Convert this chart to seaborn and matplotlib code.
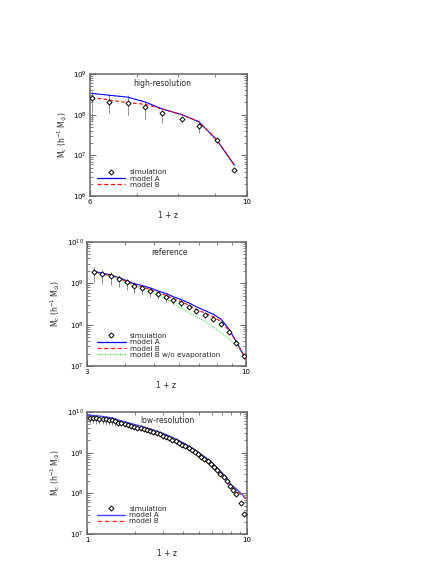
import numpy as np
import pandas as pd
import matplotlib
matplotlib.use('Agg')
import matplotlib.pyplot as plt
import seaborn as sns
from matplotlib.lines import Line2D
from matplotlib.ticker import FixedLocator, FixedFormatter, NullFormatter, LogLocator

# ---------------- data ----------------
# Panel 1: high-resolution
x1 = [6.03, 6.39, 6.78, 7.18, 7.59, 8.09, 8.55, 9.06, 9.60]
sim1 = [2.6e8, 2.1e8, 1.9e8, 1.55e8, 1.08e8, 7.8e7, 5.4e7, 2.4e7, 4.3e6]
sim1_lo = [6.6e7, 1.1e8, 1.0e8, 8.0e7, 6.4e7, 6.2e7, 3.5e7, 2.1e7, 4.0e6]
sim1_hi = [3.6e8, 3.2e8, 3.0e8, 2.1e8, 1.3e8, 9.0e7, 6.7e7, 2.7e7, 4.6e6]
modelA1 = [3.35e8, 3.0e8, 2.7e8, 2.05e8, 1.38e8, 1.0e8, 6.7e7, 2.4e7, 5.7e6]
modelB1 = [2.65e8, 2.3e8, 1.97e8, 1.8e8, 1.38e8, 1.0e8, 6.7e7, 2.4e7, 5.7e6]

# Panel 2: reference
x2 = [3.16, 3.37, 3.59, 3.82, 4.05, 4.29, 4.56, 4.85, 5.13, 5.46,
      5.77, 6.13, 6.50, 6.87, 7.32, 7.79, 8.28, 8.77, 9.30, 9.84]
sim2 = [1.88e9, 1.65e9, 1.50e9, 1.27e9, 1.05e9, 8.75e8, 7.7e8, 6.6e8, 5.5e8, 4.66e8,
        3.87e8, 3.27e8, 2.67e8, 2.13e8, 1.71e8, 1.39e8, 1.03e8, 6.6e7, 3.65e7, 1.77e7]
sim2_lo = [1.09e9, 9.9e8, 9.3e8, 8.1e8, 6.9e8, 5.95e8, 5.4e8, 4.75e8, 4.1e8, 3.6e8,
           3.1e8, 2.7e8, 2.3e8, 1.87e8, 1.54e8, 1.28e8, 9.7e7, 6.3e7, 3.5e7, 1.72e7]
sim2_hi = [2.5e9, 2.15e9, 1.92e9, 1.59e9, 1.28e9, 1.05e9, 9.1e8, 7.6e8, 6.2e8, 5.2e8,
           4.26e8, 3.53e8, 2.86e8, 2.26e8, 1.8e8, 1.45e8, 1.06e8, 6.8e7, 3.72e7, 1.8e7]
modelA2 = [1.97e9, 1.75e9, 1.6e9, 1.37e9, 1.16e9, 9.8e8, 8.85e8, 7.7e8, 6.55e8, 5.65e8,
           4.72e8, 4.02e8, 3.34e8, 2.7e8, 2.2e8, 1.8e8, 1.35e8, 8.0e7, 3.85e7, 1.77e7]
modelB2 = [1.88e9, 1.68e9, 1.55e9, 1.32e9, 1.1e9, 9.3e8, 8.2e8, 7.1e8, 6.0e8, 5.1e8,
           4.25e8, 3.6e8, 2.94e8, 2.34e8, 1.92e8, 1.57e8, 1.18e8, 7.4e7, 3.83e7, 1.77e7]
modelBnoevap2 = [1.85e9, 1.62e9, 1.47e9, 1.25e9, 1.03e9, 8.6e8, 7.5e8, 6.4e8, 5.4e8, 4.3e8,
                 3.28e8, 2.5e8, 1.93e8, 1.58e8, 1.21e8, 8.9e7, 6.45e7, 4.6e7, 3.14e7, 1.77e7]

# Panel 3: low-resolution (log10 of M_c)
x3 = [1.04, 1.09, 1.14, 1.19, 1.25, 1.31, 1.37, 1.43, 1.50, 1.57,
      1.64, 1.72, 1.80, 1.88, 1.97, 2.06, 2.16, 2.26, 2.37, 2.48,
      2.60, 2.72, 2.85, 2.98, 3.12, 3.27, 3.42, 3.58, 3.75, 3.93,
      4.11, 4.31, 4.51, 4.72, 4.94, 5.18, 5.42, 5.68, 5.94, 6.22,
      6.52, 6.82, 7.15, 7.48, 7.83, 8.20, 8.59, 9.13, 9.60]
logsim3 = [9.86, 9.85, 9.845, 9.84, 9.83, 9.82, 9.81, 9.80, 9.77, 9.74,
           9.72, 9.70, 9.68, 9.66, 9.635, 9.615, 9.595, 9.575, 9.55, 9.53,
           9.50, 9.475, 9.45, 9.42, 9.39, 9.36, 9.315, 9.28, 9.24, 9.20,
           9.16, 9.12, 9.066, 9.011, 8.957, 8.90, 8.845, 8.79, 8.72, 8.64,
           8.57, 8.48, 8.40, 8.30, 8.19, 8.09, 7.99, 7.76, 7.49]
logsim3_lo = [9.73, 9.72, 9.715, 9.71, 9.70, 9.69, 9.68, 9.67, 9.66, 9.65,
              9.66, 9.645, 9.63, 9.615, 9.595, 9.58, 9.565, 9.545, 9.52, 9.50,
              9.47, 9.45, 9.425, 9.395, 9.365, 9.335, 9.29, 9.255, 9.215, 9.175,
              9.135, 9.095, 9.04, 8.985, 8.93, 8.875, 8.82, 8.765, 8.695, 8.615,
              8.545, 8.455, 8.375, 8.275, 8.165, 8.065, 7.965, 7.735, 7.465]
logsim3_hi = [9.88, 9.87, 9.865, 9.86, 9.85, 9.84, 9.83, 9.82, 9.79, 9.76,
              9.74, 9.72, 9.70, 9.68, 9.655, 9.635, 9.615, 9.595, 9.57, 9.55,
              9.52, 9.495, 9.47, 9.44, 9.41, 9.38, 9.335, 9.30, 9.26, 9.22,
              9.18, 9.14, 9.086, 9.031, 8.977, 8.92, 8.865, 8.81, 8.74, 8.66,
              8.59, 8.50, 8.42, 8.32, 8.21, 8.11, 8.01, 7.78, 7.51]
xm3 = [1.0, 1.2, 1.45, 1.6, 2.0, 2.5, 3.0, 3.5, 4.0, 4.5, 5.0,
       5.5, 6.0, 6.5, 7.0, 7.5, 8.0, 8.5, 9.0, 9.4, 9.75]
logmodelA3 = [9.925, 9.90, 9.85, 9.79, 9.69, 9.58, 9.47, 9.355, 9.24, 9.12, 9.0,
              8.885, 8.76, 8.63, 8.50, 8.36, 8.20, 8.12, 8.03, 7.96, 7.88]
logmodelB3 = [9.845, 9.82, 9.77, 9.70, 9.60, 9.49, 9.385, 9.27, 9.155, 9.04, 8.915,
              8.80, 8.675, 8.545, 8.415, 8.28, 8.15, 8.08, 8.0, 7.94, 7.87]

titles = ['high-resolution', 'reference', 'low-resolution']
labels = ['simulation', 'model A', 'model B', 'model B w/o evaporation']

# ---------------- style ----------------
sns.set_style('ticks')
plt.rcParams['font.family'] = ['DejaVu Sans']
plt.rcParams['mathtext.fontset'] = 'dejavusans'

W, H = 436, 564
fig = plt.figure(figsize=(W / 100, H / 100), dpi=100)


def add_axes(l, r, t, b):
    return fig.add_axes([l / W, 1 - b / H, (r - l) / W, (b - t) / H])


def style(ax, xlim, xmaj, xmin, ylim):
    ax.set_xscale('log')
    ax.set_yscale('log')
    ax.set_xlim(xlim)
    ax.set_ylim(ylim)
    ax.xaxis.set_major_locator(FixedLocator(xmaj))
    ax.xaxis.set_major_formatter(FixedFormatter([str(v) for v in xmaj]))
    ax.xaxis.set_minor_locator(FixedLocator(xmin))
    ax.xaxis.set_minor_formatter(NullFormatter())
    ax.yaxis.set_major_locator(LogLocator(base=10, numticks=10))
    ax.yaxis.set_minor_locator(LogLocator(base=10, subs=np.arange(2, 10), numticks=10))
    ax.yaxis.set_minor_formatter(NullFormatter())
    ax.tick_params(which='both', direction='in', top=True, right=True,
                   labelsize=5, color='0.3', labelcolor='black', pad=2.5)
    ax.tick_params(which='major', length=4, width=0.6)
    ax.tick_params(which='minor', length=2, width=0.5)
    for s in ax.spines.values():
        s.set_linewidth(1.1)
        s.set_color('0.4')
    ax.set_xlabel('1 + z', fontsize=5.5, labelpad=4)
    ax.set_ylabel(r'M$_{\rm c}$ (h$^{-1}$ M$_{\odot}$)', fontsize=5.5, labelpad=3)


def sim(ax, x, y, lo, hi):
    ax.vlines(x, lo, hi, color='0.55', lw=0.7, zorder=2)
    sns.scatterplot(x=x, y=y, ax=ax, marker='D', s=6.5, facecolor='white',
                    edgecolor='black', linewidth=0.7, zorder=4, legend=False)
    return Line2D([], [], ls='none', marker='D', ms=2.6, mfc='white', mec='black',
                  mew=0.7, label=labels[0])


def line(ax, x, y, color, ls, lw, label):
    sns.lineplot(x=x, y=y, ax=ax, color=color, lw=lw, ls=ls, estimator=None,
                 sort=False, legend=False, zorder=3)
    return Line2D([], [], color=color, lw=max(lw, 0.9), ls=ls, label=label)


def legend(ax, handles, bx, by):
    ax.legend(handles=handles, labels=[h.get_label() for h in handles],
              loc='lower left', bbox_to_anchor=(bx, by), borderaxespad=0, borderpad=0,
              frameon=False, fontsize=5.2, handlelength=3.9, handletextpad=0.6,
              labelspacing=0.05)


dash = (0, (3.2, 2.2))
dot = (0, (0.8, 1.2))

# Panel 1
ax1 = add_axes(90, 247, 74, 196)
style(ax1, (6, 10), [6, 10], [7, 8, 9], (1e6, 1e9))
hA = line(ax1, x1, modelA1, '#0000ff', '-', 0.8, labels[1])
hB = line(ax1, x1, modelB1, '#ff0000', dash, 0.8, labels[2])
hS = sim(ax1, x1, sim1, sim1_lo, sim1_hi)
ax1.text(0.46, 0.92, titles[0], transform=ax1.transAxes, ha='center', va='center', fontsize=5.5)
legend(ax1, [hS, hA, hB], 0.045, 0.066)

# Panel 2
ax2 = add_axes(87, 246, 242, 366)
style(ax2, (3, 10), [3, 10], [4, 5, 6, 7, 8, 9], (1e7, 1e10))
hA = line(ax2, x2, modelA2, '#0000ff', '-', 0.8, labels[1])
hB = line(ax2, x2, modelB2, '#ff0000', dash, 0.8, labels[2])
hG = line(ax2, x2, modelBnoevap2, '#22dd22', dot, 0.8, labels[3])
hS = sim(ax2, x2, sim2, sim2_lo, sim2_hi)
ax2.text(0.52, 0.917, titles[1], transform=ax2.transAxes, ha='center', va='center', fontsize=5.5)
legend(ax2, [hS, hA, hB, hG], 0.065, 0.065)

# Panel 3
ax3 = add_axes(87, 247, 412, 534)
style(ax3, (1, 10), [1, 10], [2, 3, 4, 5, 6, 7, 8, 9], (1e7, 1e10))
hA = line(ax3, xm3, np.power(10.0, logmodelA3), '#4444ff', '-', 1.0, labels[1])
hB = line(ax3, xm3, np.power(10.0, logmodelB3), '#ff3333', dash, 1.0, labels[2])
hS = sim(ax3, x3, np.power(10.0, logsim3), np.power(10.0, logsim3_lo), np.power(10.0, logsim3_hi))
ax3.text(0.504, 0.929, titles[2], transform=ax3.transAxes, ha='center', va='center', fontsize=5.5)
legend(ax3, [hS, hA, hB], 0.062, 0.078)

fig.savefig('out.png', dpi=100)
